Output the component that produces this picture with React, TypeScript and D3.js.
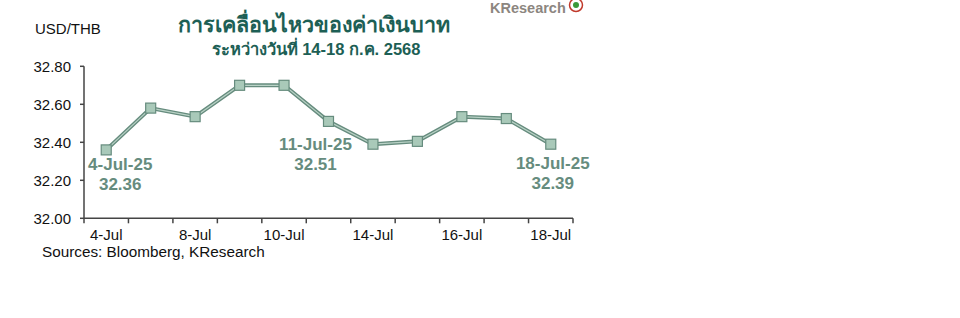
import React from "react";
import * as d3 from "d3";

const dates = ["4-Jul", "7-Jul", "8-Jul", "9-Jul", "10-Jul", "11-Jul", "14-Jul", "15-Jul", "16-Jul", "17-Jul", "18-Jul"];
const values = [32.36, 32.58, 32.535, 32.7, 32.7, 32.51, 32.39, 32.405, 32.535, 32.525, 32.39];
const yTicks = [32.0, 32.2, 32.4, 32.6, 32.8];
const tickLabelDates = ["4-Jul", "8-Jul", "10-Jul", "14-Jul", "16-Jul", "18-Jul"];
const annotations = [
  { date: "4-Jul", line1: "4-Jul-25", line2: "32.36", dx: 14, dy: 20.5 },
  { date: "11-Jul", line1: "11-Jul-25", line2: "32.51", dx: -13, dy: 28.5 },
  { date: "18-Jul", line1: "18-Jul-25", line2: "32.39", dx: 2, dy: 24.3 },
];
const title = "การเคลื่อนไหวของค่าเงินบาท";
const subtitle = "ระหว่างวันที่ 14-18 ก.ค. 2568";
const yLabel = "USD/THB";
const source = "Sources: Bloomberg, KResearch";

export default function App() {
  const W = 960, H = 318;
  const left = 84, right = 573, top = 66.3, bottom = 218.3;
  const x = d3.scaleBand().domain(dates).range([left, right]);
  const y = d3.scaleLinear().domain([32.0, 32.8]).range([bottom, top]);
  const cx = (d: string) => (x(d) as number) + x.bandwidth() / 2;
  const line = d3.line<number>().x((_, i) => cx(dates[i])).y((v) => y(v));
  const path = line(values) as string;
  const lineColor = "#668c7e";
  const font = "Liberation Sans, Arial, sans-serif";
  const green = "#1d5f55";
  const boundaries = [...dates.map((d) => x(d) as number), right];

  return (
    <svg width={W} height={H} style={{ position: "absolute", left: 0, top: 0, background: "#fff" }}>
      <g fontFamily={font}>
        {/* logo */}
        <text x={490} y={13} fontSize={14.5} fontWeight="bold" fill="#8c8680">KResearch</text>
        <circle cx={576} cy={5} r={6.5} fill="#fff" stroke="#c0392b" strokeWidth={1.5} />
        <circle cx={576} cy={5} r={3} fill="#3a9a3a" />

        <text x={314} y={32} textAnchor="middle" fontSize={21.5} fontWeight="bold" fill={green}>{title}</text>
        <text x={316} y={55} textAnchor="middle" fontSize={16.5} fontWeight="bold" fill={green}>{subtitle}</text>

        <text x={35} y={34} fontSize={15} fill="#111">{yLabel}</text>

        {/* y axis */}
        <line x1={left} x2={left} y1={top} y2={bottom} stroke="#444" strokeWidth={1.5} />
        {yTicks.map((t) => (
          <g key={t}>
            <line x1={left - 4} x2={left} y1={y(t)} y2={y(t)} stroke="#444" strokeWidth={1.5} />
            <text x={71} y={y(t) + 5.4} textAnchor="end" fontSize={15} fill="#111">{t.toFixed(2)}</text>
          </g>
        ))}
        {/* x axis */}
        <line x1={left} x2={right} y1={bottom} y2={bottom} stroke="#444" strokeWidth={1.5} />
        {boundaries.map((b, i) => (
          <line key={i} x1={b} x2={b} y1={bottom} y2={bottom + 5} stroke="#444" strokeWidth={1.5} />
        ))}
        {tickLabelDates.map((d) => (
          <text key={d} x={cx(d)} y={bottom + 22} textAnchor="middle" fontSize={15} fill="#111">{d}</text>
        ))}

        {/* line */}
        <path d={path} fill="none" stroke={lineColor} strokeWidth={4} strokeLinejoin="round" />
        <path d={path} fill="none" stroke="#b9d2c6" strokeWidth={1.2} strokeLinejoin="round" />
        {values.map((v, i) => (
          <rect key={i} x={cx(dates[i]) - 5} y={y(v) - 5} width={10} height={10} fill="#a9c9b9" stroke={lineColor} strokeWidth={1.2} />
        ))}

        {annotations.map((a) => {
          const i = dates.indexOf(a.date);
          const px = cx(a.date) + a.dx;
          const py = y(values[i]) + a.dy;
          return (
            <g key={a.date} fontSize={17} fontWeight="bold" fill={lineColor} textAnchor="middle">
              <text x={px} y={py}>{a.line1}</text>
              <text x={px} y={py + 20}>{a.line2}</text>
            </g>
          );
        })}

        <text x={42} y={257} fontSize={15.3} fill="#111">{source}</text>
      </g>
    </svg>
  );
}
